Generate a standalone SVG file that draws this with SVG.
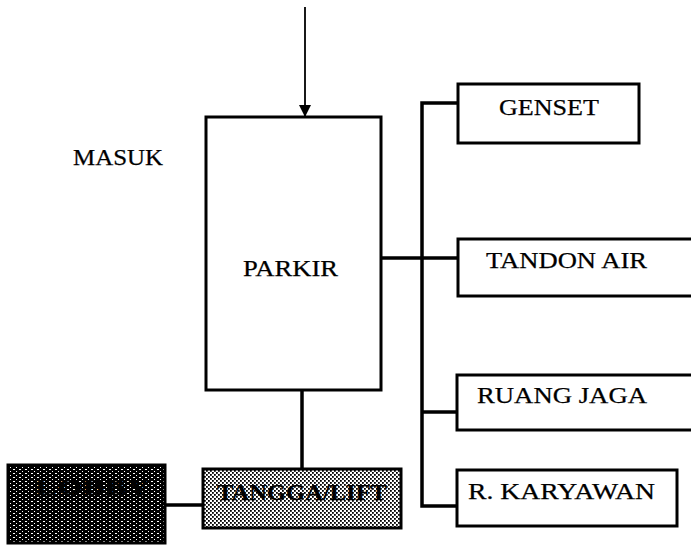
<svg xmlns="http://www.w3.org/2000/svg" width="691" height="546" viewBox="0 0 691 546">
<style>
.box{fill:#fff;stroke:#000;stroke-width:3}
.lbl{font-family:"Liberation Serif","Times New Roman",serif;font-size:24px;fill:#000;stroke:#000;stroke-width:0.25}
.ln{fill:none;stroke:#000;stroke-width:3.5}
</style>
<defs>
<pattern id="dots" width="4" height="4" patternUnits="userSpaceOnUse">
<rect width="4" height="4" fill="#fff"/>
<rect x="0" y="0" width="1.8" height="1.8" fill="#000"/>
<rect x="2" y="2" width="1.8" height="1.8" fill="#000"/>
</pattern>
<pattern id="dark" width="6" height="4" patternUnits="userSpaceOnUse">
<rect width="6" height="4" fill="#000"/>
<rect x="1" y="1" width="2" height="1" fill="#fff"/>
<rect x="4" y="3" width="1" height="1" fill="#fff"/>
</pattern>
<marker id="arr" markerWidth="12" markerHeight="12" refX="12" refY="6" orient="auto" markerUnits="userSpaceOnUse" viewBox="0 0 12 12">
<path d="M0,0 L12,6 L0,12 Z" fill="#000"/>
</marker>
</defs>
<g id="connectors">
<line x1="305" y1="7" x2="305" y2="117" stroke="#000" stroke-width="1.8" marker-end="url(#arr)"/>
<polyline class="ln" points="483,103 422,103 422,506 457,506"/>
<line class="ln" x1="381" y1="258" x2="458" y2="258" stroke-width="4.5"/>
<line class="ln" x1="422" y1="412" x2="457" y2="412"/>
<line class="ln" x1="302" y1="390" x2="302" y2="469" stroke-width="4"/>
<line class="ln" x1="165" y1="505" x2="203" y2="505"/>
</g>
<g id="masuk"><text class="lbl" x="73" y="165" textLength="90" lengthAdjust="spacingAndGlyphs">MASUK</text></g>
<g id="parkir"><rect class="box" x="206" y="117" width="175" height="273"/><text class="lbl" x="243" y="276" textLength="95" lengthAdjust="spacingAndGlyphs">PARKIR</text></g>
<g id="genset"><rect class="box" x="458" y="84" width="181" height="59"/><text class="lbl" x="499" y="115" textLength="100" lengthAdjust="spacingAndGlyphs">GENSET</text></g>
<g id="tandon"><rect class="box" x="458" y="239" width="240" height="57"/><text class="lbl" x="486" y="268" textLength="161" lengthAdjust="spacingAndGlyphs">TANDON AIR</text></g>
<g id="ruangjaga"><rect class="box" x="457" y="375" width="240" height="55"/><text class="lbl" x="477" y="403" textLength="170" lengthAdjust="spacingAndGlyphs">RUANG JAGA</text></g>
<g id="karyawan"><rect class="box" x="457" y="470" width="220" height="56"/><text class="lbl" x="468" y="499" textLength="187" lengthAdjust="spacingAndGlyphs">R. KARYAWAN</text></g>
<g id="tangga"><rect x="203" y="469" width="198" height="59" fill="url(#dots)" stroke="#000" stroke-width="3"/><text class="lbl" x="217" y="500" textLength="170" lengthAdjust="spacingAndGlyphs" style="font-weight:bold">TANGGA/LIFT</text></g>
<g id="lobby"><rect x="8" y="465" width="157" height="78" fill="url(#dark)" stroke="#000" stroke-width="3"/><text class="lbl" x="35" y="495" textLength="115" lengthAdjust="spacingAndGlyphs" style="font-weight:bold">LOBBY</text></g>
</svg>
